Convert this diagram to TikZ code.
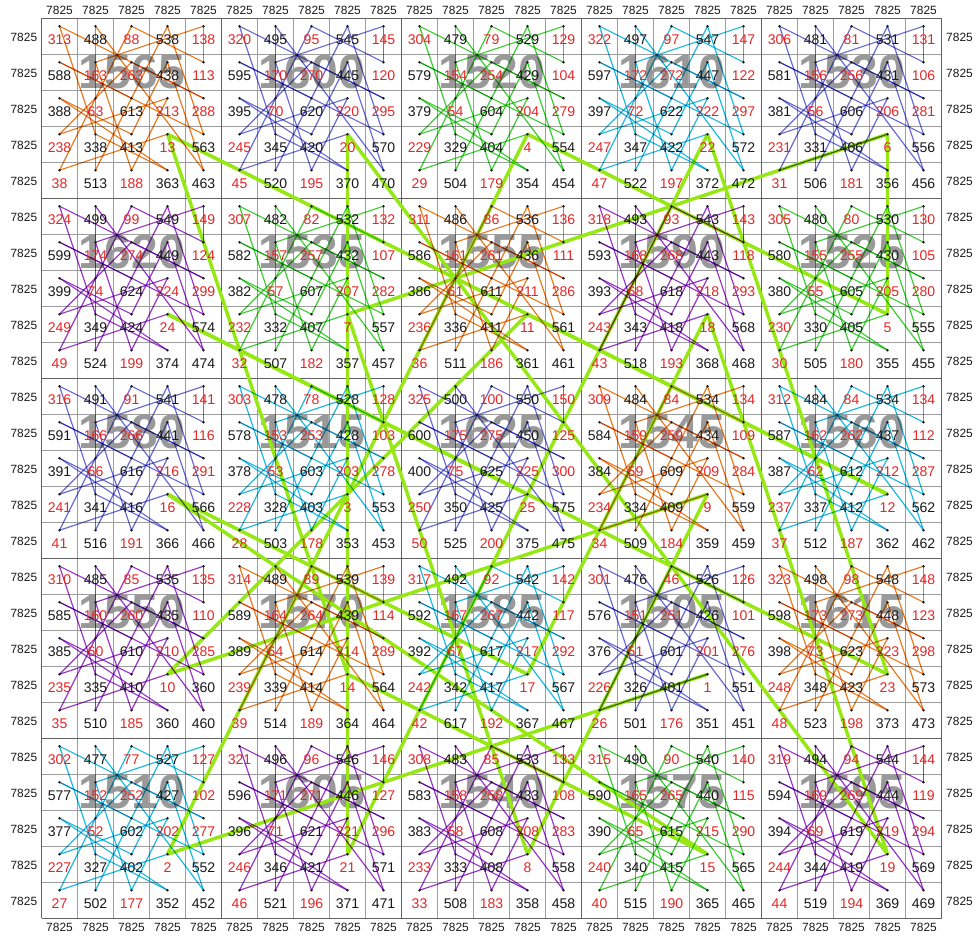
\documentclass[tikz,border=0pt]{standalone}
\usepackage{fontspec}
\setmainfont{Liberation Sans}
\usetikzlibrary{calc}

\definecolor{naranja}{RGB}{232,122,32}
\definecolor{azul}{RGB}{106,106,212}
\definecolor{verde}{RGB}{60,205,50}
\definecolor{cian}{RGB}{30,185,222}
\definecolor{morado}{RGB}{150,55,200}
\definecolor{lima}{RGB}{150,232,20}
\definecolor{rojo}{RGB}{226,38,38}

% cuadrado base 5x5 y posicion de cada valor
\def\Pm{{12,19,3,21,5,23,6,10,17,4,15,2,24,8,11,9,13,16,0,22,1,20,7,14,18}}
\def\kR{{3,4,2,0,1,0,1,4,2,3,1,2,0,3,4,2,3,1,4,0,4,0,3,1,2}}
\def\kC{{3,0,1,2,4,4,1,2,3,0,2,4,0,1,3,0,2,3,4,1,1,3,4,0,2}}

% valores tal como salen en la figura
\def\fija#1#2#3{\expandafter\def\csname fija-#1-#2\endcsname{#3}}
\fija{10}{21}{484}\fija{10}{22}{84}\fija{10}{23}{534}\fija{10}{24}{134}
\fija{15}{17}{46}\fija{18}{4}{360}\fija{19}{11}{617}
\fija{20}{12}{85}\fija{21}{9}{127}

\begin{document}
\begin{tikzpicture}[
    x=1.08cm, y=-1.08cm,
    every node/.style={inner sep=0pt, font=\fontsize{12}{12}\selectfont},
    celda/.style={draw=black!38, line width=0.5pt},
    bloque/.style={draw=black!62, line width=0.9pt},
    borde/.style={font=\fontsize{10.2}{10}\selectfont, text=black!90},
    suma/.style={font=\fontsize{41}{41}\selectfont\bfseries, text=black!40},
    traza/.style={line width=1pt, line cap=round},
    enlace/.style={draw=lima, line width=3pt},
    punto/.style={fill=black!90}
  ]
  \useasboundingbox (-1.153,-0.508) rectangle (25.986,25.49);

  % Rejilla
  \foreach \i in {0,...,25} {
    \draw[celda] (\i,0) -- (\i,25);
    \draw[celda] (0,\i) -- (25,\i);
  }
  \foreach \i in {0,5,...,25} {
    \draw[bloque] (\i,0) -- (\i,25);
    \draw[bloque] (0,\i) -- (25,\i);
  }

  % Bordes
  \foreach \i in {0,...,24} {
    \node[borde] (t-\i) at (\i+0.5,-0.23) {7825};
    \node[borde] (b-\i) at (\i+0.5,25.24) {7825};
    \node[borde] (l-\i) at (-0.49,\i+0.53) {7825};
    \node[borde] (r-\i) at (25.5,\i+0.53) {7825};
  }

  % Sumas de cada bloque
  \foreach \I in {0,...,4} {
    \foreach \J in {0,...,4} {
      \pgfmathtruncatemacro\bi{5*\I+\J}
      \pgfmathtruncatemacro\sm{1505+5*\Pm[\bi]}
      \node[suma] (s-\I-\J) at (5*\J+2.5,5*\I+1.5) {\sm};
    }
  }

  % Puntos de cada celda
  \foreach \R in {0,...,24} {
    \foreach \C in {0,...,24} {
      \coordinate (p-\R-\C) at (\C+0.5,\R+0.22);
    }
  }

  % Enlaces entre bloques
  \foreach \k in {0,...,23} {
    \pgfmathtruncatemacro\kk{\k+1}
    \pgfmathtruncatemacro\ra{5*\kR[\k]+3}
    \pgfmathtruncatemacro\ca{5*\kC[\k]+3}
    \pgfmathtruncatemacro\rb{5*\kR[\kk]+3}
    \pgfmathtruncatemacro\cb{5*\kC[\kk]+3}
    \draw[enlace] (p-\ra-\ca) -- (p-\rb-\cb);
  }

  % Recorridos dentro de cada bloque
  \begin{scope}[blend mode=multiply]
  \foreach \I/\J/\col in {0/0/naranja,0/1/azul,0/2/verde,0/3/cian,0/4/azul,
      1/0/morado,1/1/verde,1/2/naranja,1/3/morado,1/4/verde,
      2/0/azul,2/1/cian,2/2/azul,2/3/naranja,2/4/cian,
      3/0/morado,3/1/naranja,3/2/cian,3/3/azul,3/4/naranja,
      4/0/cian,4/1/morado,4/2/morado,4/3/verde,4/4/morado} {
    \foreach \k in {0,...,23} {
      \pgfmathtruncatemacro\kk{\k+1}
      \pgfmathtruncatemacro\ra{5*\I+\kR[\k]}
      \pgfmathtruncatemacro\ca{5*\J+\kC[\k]}
      \pgfmathtruncatemacro\rb{5*\I+\kR[\kk]}
      \pgfmathtruncatemacro\cb{5*\J+\kC[\kk]}
      \draw[traza, draw=\col] (p-\ra-\ca) -- (p-\rb-\cb);
    }
  }
  \end{scope}

  % Numeros
  \foreach \R in {0,...,24} {
    \foreach \C in {0,...,24} {
      \fill[punto] (p-\R-\C) circle (1.2pt);
      \pgfmathtruncatemacro\ii{5*mod(\R,5)+mod(\C,5)}
      \pgfmathtruncatemacro\jj{5*div(\R,5)+div(\C,5)}
      \pgfmathtruncatemacro\pv{\Pm[\ii]}
      \pgfmathtruncatemacro\qv{\Pm[\jj]}
      \pgfmathtruncatemacro\val{25*\pv+\qv+1}
      \ifcsname fija-\R-\C\endcsname \edef\val{\csname fija-\R-\C\endcsname}\fi
      \ifnum\pv<13 \def\tc{rojo}\else\def\tc{black!90}\fi
      \node[text=\tc] (n-\R-\C) at (\C+0.5,\R+0.6) {\val};
    }
  }
\end{tikzpicture}
\end{document}
